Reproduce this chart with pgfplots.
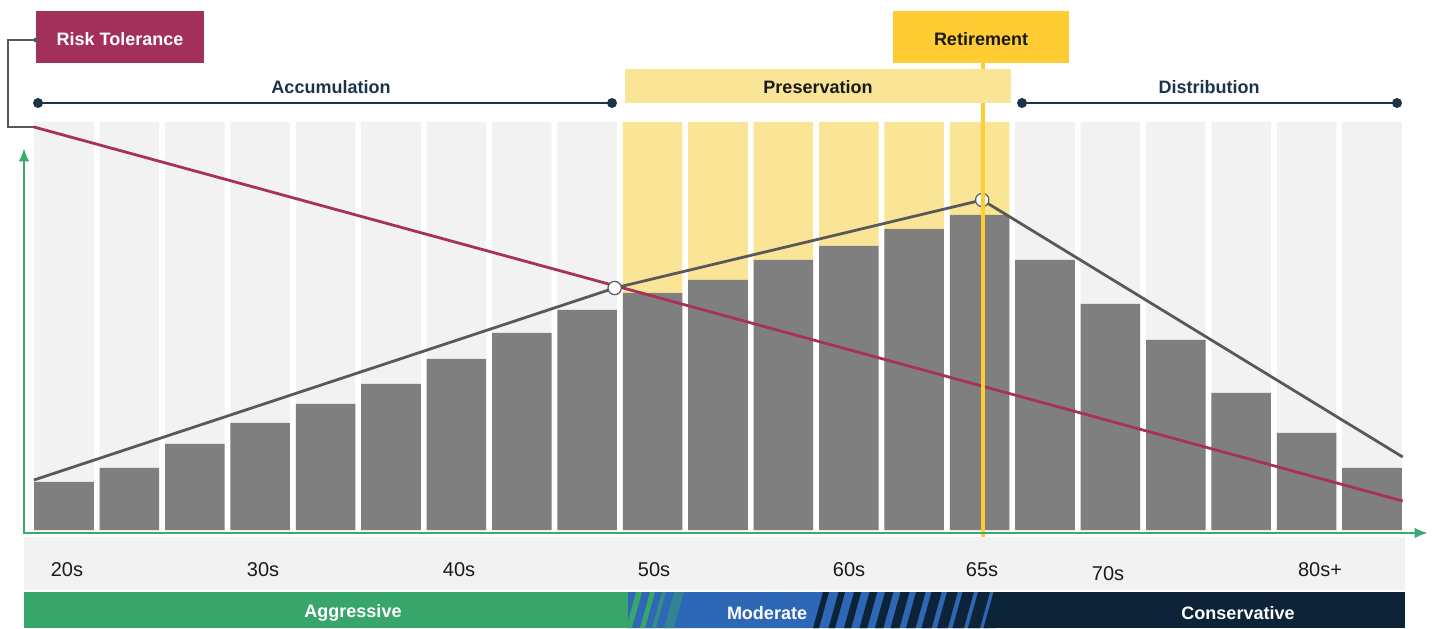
\documentclass[border=0pt]{standalone}
\usepackage{pgfplots}
\pgfplotsset{compat=1.18}
\usetikzlibrary{arrows.meta}
\usepackage{fontspec}
\setmainfont{Liberation Sans}

\definecolor{bggray}{HTML}{F2F2F2}
\definecolor{bargray}{HTML}{7F7F7F}
\definecolor{linegray}{HTML}{595959}
\definecolor{riskred}{HTML}{A8315A}
\definecolor{boxred}{HTML}{A3305A}
\definecolor{paleyellow}{HTML}{FAE597}
\definecolor{retyellow}{HTML}{FFCC33}
\definecolor{axgreen}{HTML}{3BAA6E}
\definecolor{bandgreen}{HTML}{38A66A}
\definecolor{bandblue}{HTML}{2D67B6}
\definecolor{navy}{HTML}{0D2438}
\definecolor{phasenavy}{HTML}{1C3449}
\definecolor{txt}{HTML}{1A1A1A}

\begin{document}
\begin{tikzpicture}
% one axis unit in x = one age bucket, one unit in y = one pixel of the reference
\begin{axis}[
    at={(0,0)}, anchor=south west,
    scale only axis,
    width=1074.75pt, height=471pt,
    xmin=-0.9786, xmax=20.933,
    ymin=-98, ymax=530,
    hide axis,
    clip=false,
]
% background columns
\addplot[ybar, bar width=0.91, bar shift=0pt, fill=bggray, draw=none] coordinates {
    (0,408) (1,408) (2,408) (3,408) (4,408) (5,408) (6,408) (7,408) (8,408)
    (15,408) (16,408) (17,408) (18,408) (19,408) (20,408)
};
\addplot[ybar, bar width=0.91, bar shift=0pt, fill=paleyellow, draw=none] coordinates {
    (9,408) (10,408) (11,408) (12,408) (13,408) (14,408)
};
% savings bars
\addplot[ybar, bar width=0.91, bar shift=0pt, fill=bargray, draw=none] coordinates {
    (0,48) (1,62) (2,86) (3,107) (4,126) (5,146) (6,171) (7,197) (8,220)
    (9,237) (10,250) (11,270) (12,284) (13,301) (14,315)
    (15,270) (16,226) (17,190) (18,137) (19,97) (20,62)
};
% trend lines
\addplot[linegray, line width=2.1pt, mark=none] coordinates {
    (-0.46,50) (8.42,242) (14.04,330) (20.47,73)
};
\addplot[riskred, line width=2.1pt, mark=none] coordinates {
    (-0.46,403) (20.47,29)
};
\addplot[only marks, mark=*, mark size=5pt,
    mark options={fill=white, draw=linegray, line width=0.9pt}] coordinates {
    (8.42,242) (14.04,330)
};
\end{axis}

% annotations, in pixels of the reference (origin top left)
\begin{scope}[shift={(0,471pt)}, x=0.75pt, y=-0.75pt]
\path (0,0) rectangle (1433,628);

% retirement marker line
\draw[retyellow, line width=2.3pt] (983,63) -- (983,537);

% axes
\draw[axgreen, line width=2pt, -{Latex[length=10pt,width=8pt]}] (24,533) -- (24,148);
\draw[axgreen, line width=2pt, -{Latex[length=10pt,width=8pt]}] (23,533) -- (1428,533);

% tick label band
\fill[bggray] (24,537) rectangle (1405,590);
\begin{scope}[font=\fontsize{15}{16}\selectfont, text=txt]
\node at (67,570) {20s};
\node at (263,570) {30s};
\node at (459,570) {40s};
\node at (654,570) {50s};
\node at (849,570) {60s};
\node at (982,570) {65s};
\node at (1108,574) {70s};
\node at (1320,570) {80s+};
\end{scope}

% risk profile band
\fill[navy] (24,592) rectangle (1405,628);
\fill[bandblue] (628,592) -- (1000,592) -- (990,628) -- (628,628) -- cycle;
\fill[bandgreen] (24,592) rectangle (628,628);
\begin{scope}
\clip (24,592) rectangle (1405,628);
\fill[bandgreen] (626,628) -- (632,628) -- (642,592) -- (636,592) -- cycle;
\fill[bandgreen] (640,628) -- (645,628) -- (655,592) -- (650,592) -- cycle;
\fill[bandgreen!60!bandblue] (652,628) -- (656,628) -- (666,592) -- (662,592) -- cycle;
\fill[bandgreen!45!bandblue] (664,628) -- (674,628) -- (684,592) -- (674,592) -- cycle;
\foreach \k in {0,...,11} {
    \pgfmathsetmacro{\xa}{813+15.5*\k}
    \pgfmathsetmacro{\xb}{\xa+6+0.6*\k}
    \fill[navy] (\xa,628) -- (\xb,628) -- (\xb+10,592) -- (\xa+10,592) -- cycle;
}
\end{scope}
\begin{scope}[font=\bfseries\fontsize{13.5}{15}\selectfont, text=white]
\node at (353,613) {Aggressive};
\node at (767,613) {Moderate};
\node at (1238,613) {Conservative};
\end{scope}

% risk tolerance label and connector
\draw[linegray, line width=1.1pt] (36,40) -- (8,40) -- (8,127) -- (34,127);
\fill[boxred] (36,11) rectangle (204,63);
\fill[linegray] (36,40) circle (2.5);
\node[text=white, font=\bfseries\fontsize{13.5}{15}\selectfont] at (120,39) {Risk Tolerance};

% phases
\begin{scope}[phasenavy, line width=1.6pt]
\draw (38,103) -- (612,103);
\fill (38,103) circle (5);
\fill (612,103) circle (5);
\draw (1022,103) -- (1397,103);
\fill (1022,103) circle (5);
\fill (1397,103) circle (5);
\end{scope}
\fill[paleyellow] (625,69) rectangle (1011,103);
\begin{scope}[font=\bfseries\fontsize{13.5}{15}\selectfont]
\node[text=phasenavy] at (331,87) {Accumulation};
\node[text=txt] at (818,87) {Preservation};
\node[text=phasenavy] at (1209,87) {Distribution};
\end{scope}

% retirement label
\fill[retyellow] (893,11) rectangle (1069,63);
\node[text=txt, font=\bfseries\fontsize{13.5}{15}\selectfont] at (981,39) {Retirement};
\end{scope}
\end{tikzpicture}
\end{document}
